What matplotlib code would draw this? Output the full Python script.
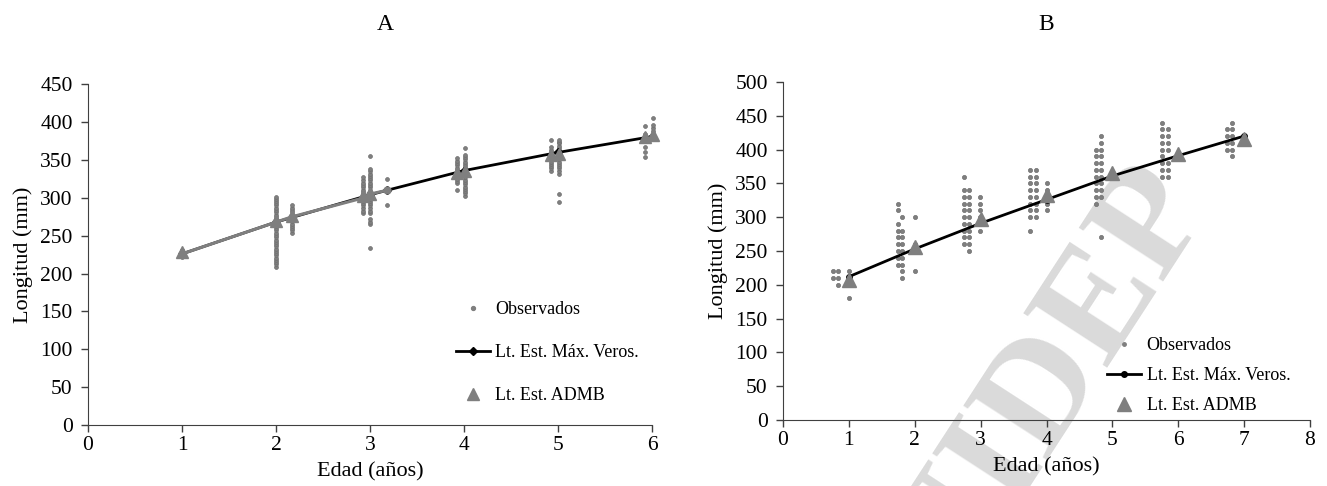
import matplotlib
matplotlib.use("Agg")
import matplotlib.pyplot as plt

plt.rcParams['font.family'] = ['Liberation Serif', 'DejaVu Serif']

# ---------------- Panel A data ----------------
obsA_x = [1.0, 2.0, 2.17, 2.93, 3.0, 3.18, 3.93, 4.01, 4.93, 5.01, 5.93, 6.01]
obsA_y = [
    [222, 225, 228, 231],
    [209, 212, 215, 218, 221, 224, 227, 230, 233, 236, 239, 242, 245, 248, 251,
     254, 257, 260, 263, 266, 269, 272, 275, 278, 281, 284, 287, 290, 293, 296, 299, 301],
    [254, 257, 260, 263, 266, 269, 272, 275, 278, 281, 284, 287, 290],
    [280, 283, 286, 290, 293, 296, 299, 302, 305, 308, 311, 314, 317, 320, 323, 327],
    [234, 265, 268, 272, 280, 283, 286, 290, 293, 296, 299, 302, 305, 308, 311, 314,
     317, 320, 323, 326, 329, 332, 335, 338, 355],
    [290, 325],
    [311, 319, 322, 325, 328, 331, 334, 337, 340, 343, 346, 349, 352],
    [303, 306, 309, 312, 315, 318, 321, 324, 327, 330, 333, 336, 339, 342, 345, 348,
     351, 354, 356, 366],
    [336, 339, 342, 345, 348, 351, 354, 357, 360, 363, 367, 376],
    [295, 305, 331, 336, 339, 342, 345, 348, 351, 354, 357, 360, 363, 366, 369, 372, 374, 377],
    [354, 361, 367, 375, 380, 385, 395],
    [380, 384, 388, 392, 396, 406],
]
mlA_x = [1, 2, 3, 3.18, 4, 5, 6]
mlA_y = [226, 268, 304, 310, 336, 360, 381]
greyA_x = [1, 2, 2.17, 2.93, 3.0, 3.18]
greyA_y = [226, 268, 275, 300, 305, 310]
admbA_x = [1, 2, 2.17, 2.93, 3.0, 3.93, 4.01, 4.93, 5.01, 5.93, 6.01]
admbA_y = [228, 270, 276, 302, 305, 333, 335, 357, 358, 381, 383]

# ---------------- Panel B data ----------------
obsB_x = [0.76, 0.83, 1.0,
          1.74, 1.81, 2.0,
          2.75, 2.83, 2.99,
          3.75, 3.84, 4.0,
          4.75, 4.83, 5.0,
          5.76, 5.84,
          6.74, 6.82]
obsB_y = [
    [220, 210], [220, 210, 200], [220, 210, 180],
    [320, 310, 290, 280, 270, 260, 250, 240, 230],
    [300, 280, 270, 260, 250, 240, 230, 220, 210],
    [300, 260, 250, 220],
    [360, 340, 330, 320, 310, 300, 290, 280, 270, 260],
    [340, 330, 320, 310, 300, 290, 280, 270, 260, 250],
    [330, 320, 310, 300, 290, 280],
    [370, 360, 350, 340, 330, 320, 310, 300, 280],
    [370, 360, 350, 340, 330, 320, 310, 300],
    [350, 340, 330, 320, 310],
    [400, 390, 380, 370, 360, 350, 340, 330, 320],
    [420, 410, 400, 390, 380, 370, 360, 350, 340, 330, 270],
    [365],
    [440, 430, 420, 410, 400, 390, 380, 370, 360],
    [430, 420, 410, 400, 380, 370, 360],
    [430, 420, 410, 400],
    [440, 430, 420, 410, 400, 390],
]
ages_B = [1, 2, 3, 4, 5, 6, 7]
mlB_y = [212, 253, 291, 326, 361, 391, 420]
admbB_y = [207, 256, 297, 333, 366, 394, 416]

GREY = '#7f7f7f'
FS_TICK = 15.5
FS_LAB = 16
FS_LEG = 13

fig = plt.figure(figsize=(13.27, 4.86), dpi=100)

# ---- Axes A ----
axA = fig.add_axes([88/1327, 1-425/486, (652-88)/1327, (425-84.3)/486])
for xv, ys in zip(obsA_x, obsA_y):
    axA.plot([xv]*len(ys), ys, 'o', ms=2.8, color=GREY, mec='#6f6f6f', mew=0.5,
             zorder=3, clip_on=False)
axA.plot([], [], 'o', ms=2.8, color=GREY, ls='none', label='Observados')
axA.plot(mlA_x, mlA_y, '-', color='black', lw=2.0, marker='D', ms=4, zorder=4,
         label='Lt. Est. Máx. Veros.', clip_on=False)
axA.plot(greyA_x, greyA_y, '-', color=GREY, lw=2.2, marker='o', ms=5, zorder=5)
axA.plot(admbA_x, admbA_y, '^', color=GREY, ms=9, ls='none', zorder=6,
         label='Lt. Est. ADMB', clip_on=False)
axA.set_xlim(0, 6)
axA.set_ylim(0, 450)
axA.set_xticks(range(0, 7))
axA.set_yticks(range(0, 451, 50))

# ---- Axes B ----
axB = fig.add_axes([783/1327, 1-420/486, (1310-783)/1327, (420-82)/486])
for xv, ys in zip(obsB_x, obsB_y):
    axB.plot([xv]*len(ys), ys, 'o', ms=3.0, color=GREY, mec='#6f6f6f', mew=0.5, zorder=3)
axB.plot([], [], 'o', ms=2.5, color=GREY, ls='none', label='Observados')
axB.plot(ages_B, mlB_y, '-', color='black', lw=2.0, marker='o', ms=4, zorder=4,
         label='Lt. Est. Máx. Veros.')
axB.plot(ages_B, admbB_y, '^', color=GREY, ms=10, ls='none', zorder=6, label='Lt. Est. ADMB')
axB.set_xlim(0, 8)
axB.set_ylim(0, 500)
axB.set_xticks(range(0, 9))
axB.set_yticks(range(0, 501, 50))

for ax in (axA, axB):
    ax.spines['top'].set_visible(False)
    ax.spines['right'].set_visible(False)
    ax.spines['left'].set_color('#404040')
    ax.spines['bottom'].set_color('#404040')
    ax.tick_params(direction='out', length=5, width=1, color='#404040',
                   labelsize=FS_TICK)
    ax.tick_params(axis='y', pad=6)
    ax.tick_params(axis='x', pad=3)
    ax.set_xlabel('Edad (años)', fontsize=FS_LAB, labelpad=5)
    ax.set_ylabel('Longitud (mm)', fontsize=FS_LAB, labelpad=5)
    ax.set_zorder(1)
    ax.patch.set_alpha(0)

axA.legend(loc='upper left', bbox_to_anchor=(456/1327, 1-301/486),
           bbox_transform=fig.transFigure, frameon=False, fontsize=FS_LEG,
           borderpad=0, borderaxespad=0, handlelength=1.9, handletextpad=0.25,
           labelspacing=1.45)
axB.legend(loc='upper left', bbox_to_anchor=(1107/1327, 1-337/486),
           bbox_transform=fig.transFigure, frameon=False, fontsize=FS_LEG,
           borderpad=0, borderaxespad=0, handlelength=1.9, handletextpad=0.3,
           labelspacing=0.72)

fig.text(385/1327, 1-25/486, 'A', fontsize=17, ha='center', va='center')
fig.text(1046/1327, 1-25/486, 'B', fontsize=17, ha='center', va='center')

# watermark (behind the axes)
fig.text(1035/1327, 1-405/486, 'INIDEP', fontsize=110, fontweight='bold',
         family='Liberation Serif', color='#dadada', rotation=57,
         ha='center', va='center', zorder=0)

fig.savefig('out.png', dpi=100)
